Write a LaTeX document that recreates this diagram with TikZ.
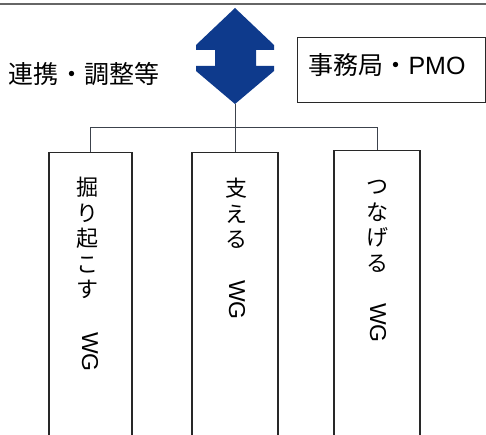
\documentclass[tikz,border=0pt]{standalone}
\usepackage{fontspec}
\setmainfont{Noto Sans CJK JP}
\newfontfamily\latinfont{Liberation Sans}
\definecolor{arrowblue}{RGB}{14,58,140}
\definecolor{linegray}{RGB}{60,66,76}
\definecolor{boxgray}{RGB}{40,40,40}
\begin{document}
\begin{tikzpicture}[x=1pt,y=-1pt,
  topline/.style={draw=gray!80!black, line width=1.3pt},
  conn/.style={draw=linegray, line width=0.9pt},
  frame/.style={draw=boxgray, line width=1.2pt, fill=white, inner sep=0pt},
  bigtext/.style={font=\fontsize{25}{30}\selectfont, inner sep=0pt},
  vtext/.style={font=\fontsize{22}{25.5}\selectfont, align=center, inner sep=0pt, anchor=north},
  wgtext/.style={font=\latinfont\fontsize{23}{26}\selectfont, inner sep=0pt, anchor=north}
]
\useasboundingbox (0,0) rectangle (486,435);
\clip (0,0) rectangle (486,435);
\fill[white] (0,0) rectangle (486,435);
% top rule
\draw[topline] (0,4) -- (486,4);
% double arrow
\fill[arrowblue] (235,8) -- (274,45) -- (274,50) -- (256,50) -- (256,66)
  -- (274,66) -- (274,71) -- (235,104) -- (196,71) -- (196,66) -- (215,66)
  -- (215,50) -- (196,50) -- (196,45) -- cycle;
\coordinate (tip) at (235,104);
\coordinate (junc) at (235,127);
% labels
\node[bigtext] (coord) at (84,74) {連携・調整等};
\node[frame, minimum width=188, minimum height=65, anchor=north west] (pmobox) at (297,37) {};
\node[bigtext] (pmo) at (387,65) {事務局・{\latinfont PMO}};
% WG boxes
\node[frame, minimum width=83, minimum height=320, anchor=north] (b1) at (90.5,152) {};
\node[frame, minimum width=86, minimum height=320, anchor=north] (b2) at (235,152) {};
\node[frame, minimum width=86, minimum height=320, anchor=north] (b3) at (377,150) {};
% connectors
\draw[conn] (tip) -- (junc);
\draw[conn] (b1.north) -- (b1.north |- junc) -- (b3.north |- junc) -- (b3.north);
\draw[conn] (junc) -- (b2.north);
% vertical texts
\node[vtext] (v1) at (87,177) {掘\\り\\起\\こ\\す};
\node[wgtext] (w1) at (90,332) {\rotatebox{-90}{WG}};
\node[vtext] (v2) at (236,178) {支\\え\\る};
\node[wgtext] (w2) at (237,280) {\rotatebox{-90}{WG}};
\node[vtext] (v3) at (377,180) {つ\\な\\げ\\る};
\node[wgtext] (w3) at (378,303) {\rotatebox{-90}{WG}};
\end{tikzpicture}
\end{document}
